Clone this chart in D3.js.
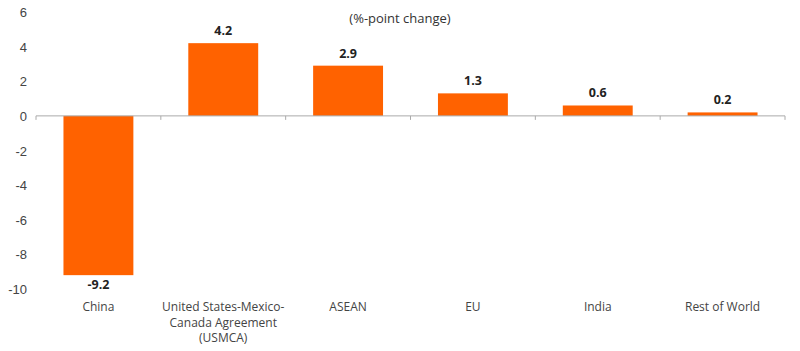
<!DOCTYPE html>
<html>
  <head>
    <meta charset="UTF-8" />
    <script src="https://cdnjs.cloudflare.com/ajax/libs/d3/7.8.5/d3.min.js"></script>
    <style>
      body { margin: 0; background: #fff; }
      svg { font-family: "Open Sans", sans-serif; }
      rect.bar { fill: #ff6200; }
      .yaxis text { fill: #444; font-size: 13px; }
      text.value { font-weight: bold; font-size: 12.5px; fill: #222; }
      text.cat { font-size: 12px; fill: #444; }
      text.title { font-size: 13px; fill: #333; }
    </style>
  </head>
  <body>
    <svg width="800" height="351"></svg>
    <script>
      var categories = [
        ["China"],
        ["United States-Mexico-", "Canada Agreement", "(USMCA)"],
        ["ASEAN"],
        ["EU"],
        ["India"],
        ["Rest of World"]
      ];
      var values = [-9.2, 4.2, 2.9, 1.3, 0.6, 0.2];
      var yTicks = [6, 4, 2, 0, -2, -4, -6, -8, -10];

      var svg = d3.select("svg");
      var idx = d3.range(values.length);

      var x = d3.scaleBand().domain(idx).range([36, 785]).paddingInner(0.44).paddingOuter(0.22);
      var y = d3.scaleLinear().domain([-10, 6]).range([289, 12]);

      // y labels only, no axis line
      var yAxis = svg.append("g")
        .attr("class", "yaxis")
        .attr("transform", "translate(27,0)")
        .call(d3.axisLeft(y).tickValues(yTicks).tickSize(0).tickPadding(0).tickFormat(d => String(d)));
      yAxis.select(".domain").remove();
      yAxis.selectAll("text").attr("dy", "0.35em");

      svg.selectAll("rect.bar")
        .data(values)
        .enter()
        .append("rect")
        .attr("class", "bar")
        .attr("x", (d, i) => x(i))
        .attr("width", x.bandwidth())
        .attr("y", d => y(Math.max(0, d)))
        .attr("height", d => Math.abs(y(d) - y(0)));

      // zero line with ticks at the category edges
      var edges = d3.range(values.length + 1).map(i => 36 + i * (749 / values.length));
      svg.append("line")
        .attr("x1", 36).attr("x2", 785)
        .attr("y1", y(0)).attr("y2", y(0))
        .attr("stroke", "#aaa");
      svg.selectAll("line.tick")
        .data(edges)
        .enter()
        .append("line")
        .attr("class", "tick")
        .attr("x1", d => d).attr("x2", d => d)
        .attr("y1", y(0)).attr("y2", y(0) + 4)
        .attr("stroke", "#aaa");

      svg.selectAll("text.value")
        .data(values)
        .enter()
        .append("text")
        .attr("class", "value")
        .attr("text-anchor", "middle")
        .attr("x", (d, i) => x(i) + x.bandwidth() / 2)
        .attr("y", d => d >= 0 ? y(d) - 8 : y(d) + 14)
        .text(d => d.toFixed(1));

      var cats = svg.selectAll("text.cat")
        .data(categories)
        .enter()
        .append("text")
        .attr("class", "cat")
        .attr("text-anchor", "middle")
        .attr("x", (d, i) => x(i) + x.bandwidth() / 2)
        .attr("y", 311);
      cats.selectAll("tspan")
        .data(d => d)
        .enter()
        .append("tspan")
        .attr("x", function () { return d3.select(this.parentNode).attr("x"); })
        .attr("dy", (d, i) => i === 0 ? 0 : 15.5)
        .text(d => d);

      svg.append("text")
        .attr("class", "title")
        .attr("text-anchor", "middle")
        .attr("x", 400)
        .attr("y", 23)
        .text("(%-point change)");
    </script>
  </body>
</html>
